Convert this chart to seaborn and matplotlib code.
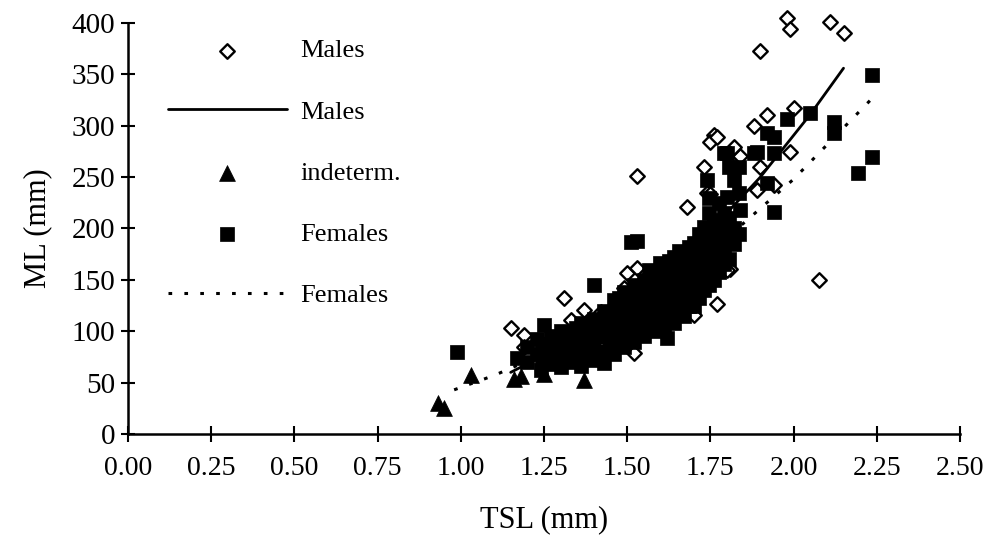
import matplotlib
matplotlib.use("Agg")
import matplotlib.pyplot as plt
import seaborn as sns
import pandas as pd

# ---------------- data ----------------
male_tsl = [1.15, 1.19, 1.19, 1.31, 1.33, 1.37, 1.42, 1.49, 1.50, 1.53, 1.52, 1.70,
            1.77, 1.53, 1.81, 1.80, 1.76, 1.68, 1.74, 1.75, 1.89, 1.94, 1.73, 1.90,
            1.84, 1.82, 1.99, 1.76, 1.75, 1.77, 1.88, 1.92, 2.00, 1.90, 1.98, 1.99,
            2.11, 2.15, 2.075, 1.60, 1.65, 1.45, 1.58, 1.62, 1.56]
male_ml = [103, 96, 85, 132, 111, 121, 119, 142, 157, 162, 79, 116,
           127, 251, 161, 160, 182, 221, 235, 234, 237, 242, 260, 260,
           271, 279, 274, 291, 284, 289, 300, 310, 317, 373, 405, 394,
           401, 390, 150, 140, 150, 105, 120, 128, 115]

indet_tsl = [0.93, 0.95, 1.03, 1.16, 1.18, 1.25, 1.37]
indet_ml = [30, 25, 57, 54, 56, 58, 53]

fem_tsl = [0.99, 1.17, 1.25, 1.24, 1.40, 1.43, 1.51, 1.53, 1.62, 1.60, 1.64, 1.70,
           1.73, 1.76, 1.80, 1.84, 1.74, 1.82, 1.79, 1.89, 1.80, 1.88, 1.94, 1.92,
           1.94, 1.92, 1.94, 1.98, 2.05, 2.12, 2.12, 2.235, 2.235, 2.195,
           1.20, 1.20, 1.23, 1.23, 1.27, 1.27, 1.27, 1.30, 1.30, 1.30, 1.30,
           1.33, 1.33, 1.33, 1.36, 1.36, 1.36, 1.36, 1.40, 1.40, 1.40, 1.40,
           1.43, 1.43, 1.43, 1.43, 1.46, 1.46, 1.46, 1.46, 1.46,
           1.49, 1.49, 1.49, 1.49, 1.49, 1.52, 1.52, 1.52, 1.52, 1.52,
           1.55, 1.55, 1.55, 1.55, 1.55, 1.58, 1.58, 1.58, 1.58, 1.58,
           1.61, 1.61, 1.61, 1.61, 1.61, 1.64, 1.64, 1.64, 1.64, 1.64,
           1.67, 1.67, 1.67, 1.67, 1.67, 1.70, 1.70, 1.70, 1.70,
           1.73, 1.73, 1.73, 1.73, 1.76, 1.76, 1.76, 1.76,
           1.79, 1.79, 1.79, 1.79, 1.82, 1.82,
           1.245, 1.245, 1.285, 1.285, 1.315, 1.315, 1.345, 1.345, 1.345,
           1.38, 1.38, 1.38, 1.415, 1.415, 1.415, 1.445, 1.445, 1.445,
           1.475, 1.475, 1.475, 1.475, 1.505, 1.505, 1.505, 1.505,
           1.535, 1.535, 1.535, 1.535, 1.565, 1.565, 1.565, 1.565, 1.565,
           1.595, 1.595, 1.595, 1.595, 1.625, 1.625, 1.625, 1.625, 1.625,
           1.655, 1.655, 1.655, 1.655, 1.655, 1.685, 1.685, 1.685, 1.685, 1.685,
           1.715, 1.715, 1.715, 1.715, 1.715, 1.745, 1.745, 1.745, 1.745, 1.745, 1.745,
           1.775, 1.775, 1.775, 1.775, 1.775, 1.805, 1.805, 1.805, 1.805,
           1.835, 1.835, 1.835]
fem_ml = [80, 74, 106, 62, 145, 69, 187, 188, 93, 166, 172, 186,
          201, 208, 231, 218, 247, 247, 273, 274, 273, 273, 273, 244,
          216, 293, 289, 307, 312, 304, 293, 349, 270, 254,
          70, 85, 78, 92, 68, 82, 95, 65, 78, 92, 100,
          70, 85, 98, 66, 80, 95, 108, 72, 88, 100, 112,
          80, 95, 108, 120, 78, 92, 105, 118, 130,
          85, 98, 112, 125, 138, 90, 103, 115, 128, 145,
          95, 108, 122, 135, 150, 100, 115, 128, 142, 155,
          105, 118, 132, 148, 160, 108, 122, 138, 152, 165,
          115, 130, 145, 160, 175, 125, 140, 155, 170,
          140, 155, 170, 185, 150, 165, 180, 195,
          165, 180, 200, 215, 185, 200,
          72, 88, 75, 90, 72, 88, 78, 92, 103,
          75, 90, 102, 80, 95, 108, 88, 100, 112,
          90, 104, 118, 132, 95, 110, 122, 135,
          100, 113, 125, 140, 103, 118, 132, 145, 160,
          108, 122, 136, 150, 112, 126, 140, 155, 168,
          118, 132, 147, 162, 178, 125, 138, 152, 168, 182,
          132, 148, 162, 178, 195, 145, 160, 175, 190, 215, 230,
          158, 172, 188, 205, 225, 170, 190, 210, 260,
          195, 235, 260]

male_fit_tsl = [1.15, 1.30, 1.45, 1.60, 1.75, 1.90, 2.05, 2.15]
male_fit_ml = [60, 85, 116, 153, 198, 250, 311, 356]

fem_fit_tsl = [0.98, 1.10, 1.20, 1.40, 1.60, 1.80, 2.00, 2.24]
fem_fit_ml = [43, 57, 71, 103, 143, 191, 248, 328]

x_ticks = [0.00, 0.25, 0.50, 0.75, 1.00, 1.25, 1.50, 1.75, 2.00, 2.25, 2.50]
y_ticks = [0, 50, 100, 150, 200, 250, 300, 350, 400]

# ---------------- plot ----------------
sns.set_style("ticks")
plt.rcParams["font.family"] = ["Liberation Serif", "DejaVu Serif"]
plt.rcParams["text.color"] = "black"
plt.rcParams["axes.labelcolor"] = "black"
plt.rcParams["xtick.color"] = "black"
plt.rcParams["ytick.color"] = "black"

fig = plt.figure(figsize=(9.95, 5.48), dpi=100)
ax = fig.add_axes([128 / 995, 1 - 434 / 548, (960 - 128) / 995, (434 - 23) / 548])

males = pd.DataFrame({"TSL": male_tsl, "ML": male_ml})
indet = pd.DataFrame({"TSL": indet_tsl, "ML": indet_ml})
fem = pd.DataFrame({"TSL": fem_tsl, "ML": fem_ml})
mfit = pd.DataFrame({"TSL": male_fit_tsl, "ML": male_fit_ml})
ffit = pd.DataFrame({"TSL": fem_fit_tsl, "ML": fem_fit_ml})

sns.scatterplot(data=males, x="TSL", y="ML", marker="D", s=55, color="white",
                edgecolor="black", linewidth=1.7, label="Males", ax=ax, zorder=2,
                clip_on=False)
sns.lineplot(data=mfit, x="TSL", y="ML", color="black", linewidth=2.0,
             label="Males", ax=ax, zorder=5)
sns.scatterplot(data=indet, x="TSL", y="ML", marker="^", s=130, color="black",
                edgecolor="black", linewidth=0.5, label="indeterm.", ax=ax, zorder=4)
sns.scatterplot(data=fem, x="TSL", y="ML", marker="s", s=115, color="black",
                edgecolor="black", linewidth=0.5, label="Females", ax=ax, zorder=3)
sns.lineplot(data=ffit, x="TSL", y="ML", color="black", linewidth=2.2,
             linestyle=(0, (1.2, 4.0)), label="Females", ax=ax, zorder=5)

ax.set_xlim(0, 2.5)
ax.set_ylim(0, 400)
ax.set_xticks(x_ticks)
ax.set_xticklabels([f"{v:.2f}" for v in x_ticks], fontsize=20)
ax.set_yticks(y_ticks)
ax.set_yticklabels([str(v) for v in y_ticks], fontsize=21)
ax.tick_params(axis="x", direction="inout", length=12, width=1.5, pad=10, colors="black")
ax.tick_params(axis="y", direction="inout", length=10, width=1.5, pad=4, colors="black")
for side in ["top", "right"]:
    ax.spines[side].set_visible(False)
for side in ["left", "bottom"]:
    ax.spines[side].set_linewidth(1.8)
    ax.spines[side].set_color("black")

ax.set_xlabel("TSL (mm)", fontsize=22, labelpad=17)
ax.set_ylabel("ML (mm)", fontsize=22, labelpad=14)

handles, labels = ax.get_legend_handles_labels()
leg = ax.legend(handles, labels, loc="upper left",
                bbox_to_anchor=(168 / 995, 1 - 39 / 548), bbox_transform=fig.transFigure,
                frameon=False, fontsize=19, handlelength=4.5, handletextpad=0.5,
                labelspacing=1.43, borderpad=0, borderaxespad=0, scatterpoints=1)

fig.savefig("out.png", dpi=100, facecolor="white")
